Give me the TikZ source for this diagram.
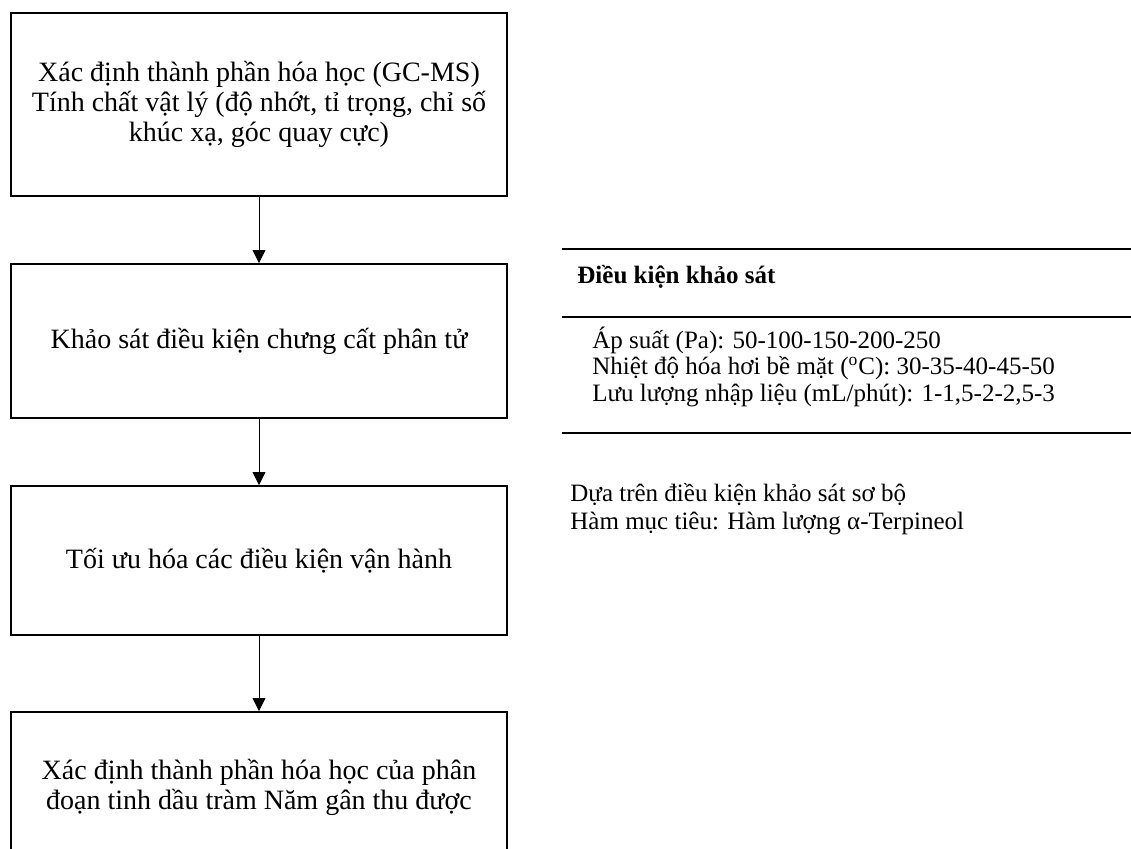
\documentclass[tikz,border=0pt]{standalone}
\usepackage{fontspec}
\setmainfont{Liberation Serif}
\usetikzlibrary{arrows.meta}

\tikzset{
  stepbox/.style={draw, line width=1pt, minimum width=248pt, align=center, inner sep=0pt,
    font=\fontsize{14}{15}\selectfont},
  cond/.style={anchor=west, inner sep=0pt, font=\fontsize{12.5}{14}\selectfont},
  rule/.style={line width=1pt}
}

\begin{document}
\begin{tikzpicture}[x=0.5pt,y=-0.5pt, >={Triangle[length=6.5pt,width=6.5pt]}]
\clip (0,0) rectangle (1131,848);

\node(s1) at (259,104.5) [stepbox, minimum height=91.5pt] {X\'ac định th\`anh phần h\'oa học (GC-MS)\\T\'inh chất vật l\'y (độ nhớt, tỉ trọng, chỉ số\\khúc xạ, góc quay cực)};
\node(s2) at (259,341) [stepbox, minimum height=77pt] {Khảo sát điều kiện chưng cất phân tử};
\node(s3) at (259,560.5) [stepbox, minimum height=74.5pt] {Tối ưu hóa các điều kiện vận hành};
\node(s4) at (259,787) [stepbox, minimum height=75pt] {Xác định thành phần hóa học của phân\\đoạn tinh dầu tràm Năm gân thu được};
\draw[->] (s1) -- (s2);
\draw[->] (s2) -- (s3);
\draw[->] (s3) -- (s4);

% bang dieu kien
\draw[rule] (562,249) -- (1131,249);
\draw[rule] (562,317) -- (1131,317);
\draw[rule] (562,433) -- (1131,433);
\node(h) at (577,277) [cond] {\textbf{Điều kiện khảo sát}};
\node(c1) at (592,340) [cond] {Áp suất (Pa): 50-100-150-200-250};
\node(c2) at (592,368) [cond] {Nhiệt độ hóa hơi bề mặt (\textsuperscript{o}C): 30-35-40-45-50};
\node(c3) at (592,395) [cond] {Lưu lượng nhập liệu (mL/phút): 1-1,5-2-2,5-3};

\node(d1) at (570,495) [cond] {Dựa trên điều kiện khảo sát sơ bộ};
\node(d2) at (570,523) [cond] {Hàm mục tiêu: Hàm lượng α-Terpineol};
\end{tikzpicture}
\end{document}
